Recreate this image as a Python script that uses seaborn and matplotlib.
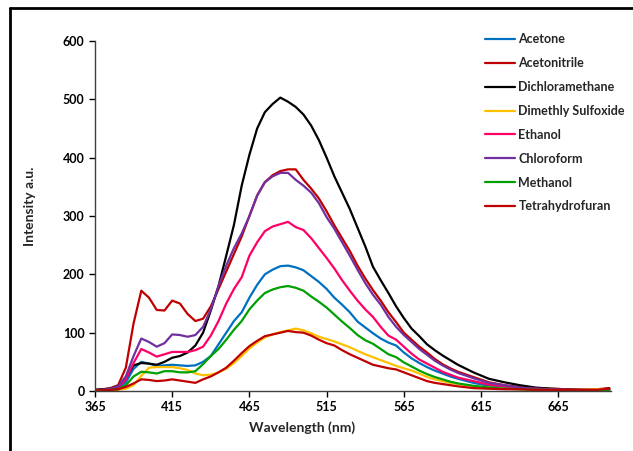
import matplotlib
matplotlib.use("Agg")
import matplotlib.pyplot as plt
from matplotlib.lines import Line2D
import numpy as np
import pandas as pd
import seaborn as sns

wavelength = [365, 370, 375, 380, 385, 390, 395, 400, 405, 410, 415, 420, 425, 430, 435, 440,
              445, 450, 455, 460, 465, 470, 475, 480, 485, 490, 495, 500, 505, 510, 515, 520,
              525, 530, 535, 540, 545, 550, 555, 560, 565, 570, 575, 580, 585, 590, 595, 600,
              610, 620, 630, 640, 650, 660, 670, 680, 690, 698]

acetone = [1, 1, 2, 4, 15, 38, 50, 47, 43, 44, 45, 44, 43, 44, 50, 60,
           80, 100, 120, 135, 160, 182, 200, 208, 214, 215, 212, 207, 197, 187, 175, 160,
           148, 135, 119, 109, 99, 90, 83, 78, 66, 56, 48, 41, 35, 30, 25, 21,
           14, 9, 6, 4, 3, 2, 2, 1, 1, 2]
acetonitrile = [2, 3, 5, 10, 40, 116, 172, 160, 139, 138, 155, 150, 132, 120, 124, 145,
                175, 205, 235, 265, 300, 335, 358, 370, 377, 380, 380, 362, 347, 330, 308, 284,
                262, 240, 215, 193, 173, 155, 135, 118, 100, 88, 76, 66, 55, 46, 39, 33,
                24, 15, 10, 7, 5, 4, 3, 2, 3, 5]
dichloromethane = [2, 3, 4, 8, 22, 44, 48, 47, 45, 50, 57, 60, 66, 78, 100, 138,
                   180, 232, 285, 352, 405, 450, 478, 492, 503, 496, 487, 474, 455, 430, 400, 368,
                   340, 312, 280, 248, 213, 190, 168, 145, 125, 107, 94, 80, 70, 61, 53, 45,
                   32, 21, 15, 10, 6, 4, 3, 2, 2, 4]
dmso = [0, 0, 1, 2, 4, 10, 26, 40, 41, 41, 41, 39, 36, 30, 27, 28,
        32, 38, 48, 60, 73, 83, 92, 97, 101, 104, 107, 104, 99, 93, 89, 85,
        80, 75, 69, 63, 58, 53, 48, 43, 39, 35, 30, 24, 20, 17, 14, 12,
        8, 6, 4, 3, 2, 2, 2, 2, 3, 3]
ethanol = [1, 2, 3, 6, 20, 48, 72, 66, 59, 63, 67, 67, 67, 70, 76, 95,
           120, 150, 175, 195, 232, 255, 274, 282, 286, 290, 281, 276, 262, 245, 228, 210,
           190, 172, 155, 140, 127, 110, 95, 88, 76, 64, 54, 47, 40, 33, 28, 23,
           17, 11, 8, 5, 4, 3, 2, 1, 1, 2]
chloroform = [1, 2, 4, 8, 25, 60, 90, 84, 76, 82, 97, 96, 93, 96, 110, 140,
              180, 215, 245, 270, 300, 335, 358, 368, 374, 374, 362, 352, 340, 322, 298, 278,
              255, 232, 208, 185, 165, 148, 127, 110, 96, 84, 72, 62, 52, 44, 37, 31,
              22, 14, 10, 6, 4, 3, 2, 2, 1, 2]
methanol = [1, 1, 2, 3, 10, 25, 33, 32, 30, 34, 34, 32, 32, 34, 46, 60,
            72, 88, 105, 120, 140, 155, 168, 174, 178, 180, 177, 172, 162, 153, 143, 131,
            119, 108, 96, 87, 81, 72, 63, 58, 49, 42, 35, 29, 24, 20, 16, 13,
            9, 6, 4, 3, 2, 2, 1, 1, 1, 1]
thf = [1, 1, 2, 3, 7, 13, 20, 19, 17, 18, 20, 18, 16, 14, 20, 25,
       32, 40, 52, 65, 77, 86, 94, 97, 100, 103, 101, 100, 95, 88, 82, 78,
       70, 63, 57, 51, 45, 42, 39, 37, 32, 27, 22, 17, 14, 12, 10, 8,
       5, 4, 3, 3, 2, 2, 2, 2, 2, 4]

solvents = ["Acetone", "Acetonitrile", "Dichloramethane", "Dimethly Sulfoxide",
            "Ethanol", "Chloroform", "Methanol", "Tetrahydrofuran"]
series = [acetone, acetonitrile, dichloromethane, dmso, ethanol, chloroform, methanol, thf]
colors = ["#0070C0", "#C00000", "#000000", "#FFC000", "#FF0066", "#7030A0", "#00A000", "#C00000"]

x_ticks = [365, 415, 465, 515, 565, 615, 665]
y_ticks = [0, 100, 200, 300, 400, 500, 600]

df = pd.DataFrame({
    "Wavelength": np.tile(wavelength, len(solvents)),
    "Intensity": np.concatenate([np.array(s, dtype=float) for s in series]),
    "Solvent": np.repeat(solvents, len(wavelength)),
})

sns.set_style("ticks")
plt.rcParams["font.family"] = ["Lato", "DejaVu Sans"]
plt.rcParams["font.weight"] = "bold"

fig = plt.figure(figsize=(6.33, 4.51), dpi=100)
ax = fig.add_axes([0.150, 0.133, 0.815, 0.776])

sns.lineplot(data=df, x="Wavelength", y="Intensity", hue="Solvent", hue_order=solvents,
             palette=dict(zip(solvents, colors)), linewidth=1.6, ax=ax, estimator=None,
             sort=True)

ax.set_xlim(365, 699)
ax.set_ylim(0, 600)
ax.set_xticks(x_ticks)
ax.set_yticks(y_ticks)
ax.tick_params(axis="both", direction="out", length=4, width=1, labelsize=9, colors="black")
for lbl in ax.get_xticklabels() + ax.get_yticklabels():
    lbl.set_fontweight("bold")
for side in ["top", "right"]:
    ax.spines[side].set_visible(False)
for side in ["left", "bottom"]:
    ax.spines[side].set_color("#404040")
    ax.spines[side].set_linewidth(1)

ax.set_xlabel("Wavelength (nm)", fontsize=10, fontweight="bold")
ax.set_ylabel("Intensity a.u.", fontsize=10, fontweight="bold")
ax.xaxis.set_label_coords(0.401, -0.086)
ax.yaxis.set_label_coords(-0.114, 0.529)

handles, labels = ax.get_legend_handles_labels()
ax.legend(handles, labels, loc="upper left", bbox_to_anchor=(0.749, 0.951),
          bbox_transform=fig.transFigure, frameon=False,
          handlelength=2.4, handletextpad=0.25, labelspacing=0.95,
          prop={"weight": "bold", "size": 9})

fig.add_artist(Line2D([10 / 633, 1.0], [1 - 8 / 451, 1 - 8 / 451], color="black", lw=2,
                      transform=fig.transFigure))
fig.add_artist(Line2D([10 / 633, 10 / 633], [0, 1 - 8 / 451], color="black", lw=2,
                      transform=fig.transFigure))

fig.savefig("out.png", dpi=100)
